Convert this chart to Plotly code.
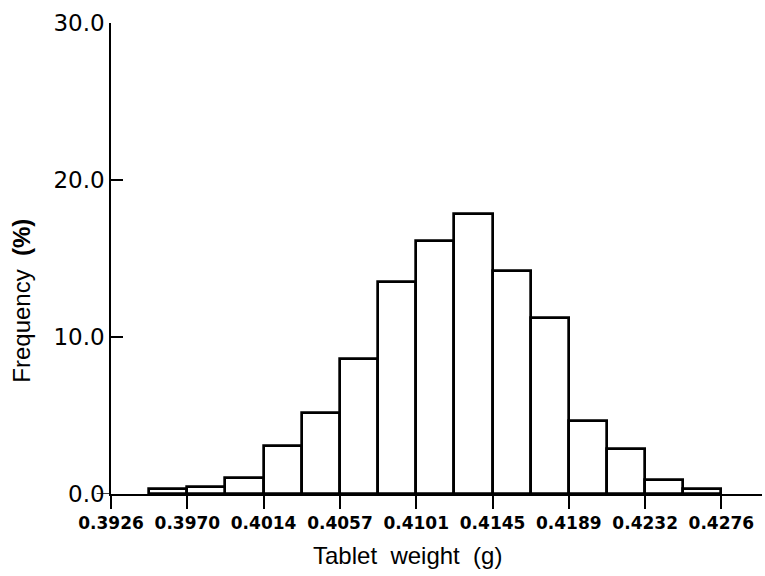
import plotly.graph_objects as go

# Data
bin_left = [0.39479, 0.39698, 0.39916, 0.40135, 0.40354, 0.40573, 0.40791, 0.41010,
            0.41229, 0.41448, 0.41666, 0.41885, 0.42104, 0.42323, 0.42541]
bin_width = 0.0021875
freq = [0.3, 0.47, 1.0, 3.06, 5.14, 8.6, 13.5, 16.1, 17.85, 14.2, 11.2, 4.65, 2.87, 0.89, 0.3]

x_tickvals = [0.3926, 0.39698, 0.40135, 0.40573, 0.41010, 0.41448, 0.41885, 0.42323, 0.4276]
x_ticktext = ["0.3926", "0.3970", "0.4014", "0.4057", "0.4101", "0.4145", "0.4189", "0.4232", "0.4276"]
y_tickvals = [0, 10, 20, 30]
y_ticktext = ["0.0", "10.0", "20.0", "30.0"]

fig = go.Figure()
fig.add_trace(go.Bar(
    x=bin_left, y=freq, width=[bin_width] * len(freq), offset=0,
    marker=dict(color="white", line=dict(color="black", width=2.7)),
    showlegend=False,
))

fig.update_layout(
    width=765, height=576,
    margin=dict(l=111, r=3, t=23, b=82),
    paper_bgcolor="white", plot_bgcolor="white",
    font=dict(family="DejaVu Sans", color="black"),
    bargap=0,
    xaxis=dict(
        range=[0.3926, 0.42993], tickvals=x_tickvals, ticktext=x_ticktext,
        ticks="outside", ticklen=13, tickwidth=1.5, tickcolor="black",
        showline=True, linecolor="black", linewidth=1.5, showgrid=False, zeroline=False,
        tickfont=dict(size=17, family="DejaVu Sans", weight="bold"),
    ),
    yaxis=dict(
        range=[0, 30], tickvals=y_tickvals, ticktext=y_ticktext,
        ticks="inside", ticklen=12, tickwidth=1.5, tickcolor="black",
        showline=True, linecolor="black", linewidth=1.5, showgrid=False, zeroline=False,
        tickfont=dict(size=23, family="DejaVu Sans"),
    ),
    shapes=[dict(type="line", xref="paper", yref="y", x0=-0.022, x1=0, y0=0, y1=0,
                 line=dict(color="black", width=1.5))],
    annotations=[
        dict(text="Tablet  weight  (g)", xref="paper", yref="paper", x=0.455, y=-0.13,
             xanchor="center", yanchor="middle", showarrow=False,
             font=dict(size=24, family="Liberation Sans")),
        dict(text="Frequency  <b>(%)</b>", xref="paper", yref="paper", x=-0.137, y=0.41,
             xanchor="center", yanchor="middle", textangle=-90, showarrow=False,
             font=dict(size=24, family="Liberation Sans")),
    ],
)

fig.write_html("out.html")
